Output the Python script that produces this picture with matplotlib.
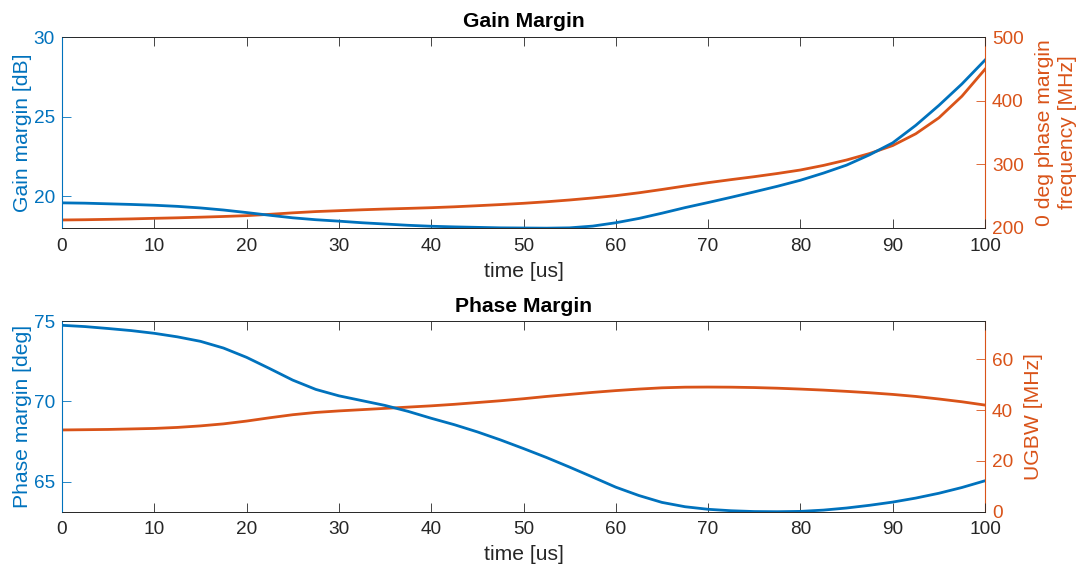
import matplotlib
matplotlib.use("Agg")
import matplotlib.pyplot as plt

plt.rcParams['font.family'] = ['Liberation Sans', 'DejaVu Sans']

# Time axis [us], sampled every 2.5 us
time_us = [i * 2.5 for i in range(41)]

# Gain margin [dB]
gain_margin = [19.58, 19.56, 19.52, 19.48, 19.43, 19.36, 19.26, 19.13, 18.97, 18.80,
               18.64, 18.52, 18.43, 18.33, 18.25, 18.17, 18.11, 18.07, 18.04, 18.01,
               18.00, 17.99, 18.01, 18.12, 18.33, 18.60, 18.93, 19.28, 19.60, 19.93,
               20.27, 20.62, 21.00, 21.45, 21.95, 22.60, 23.35, 24.45, 25.70, 27.05,
               28.55]

# 0 deg phase margin frequency [MHz]
zero_pm_freq = [212.6, 213.0, 213.6, 214.3, 215.2, 216.0, 217.0, 218.1, 219.4, 221.5,
                223.8, 225.8, 227.2, 228.6, 229.8, 230.8, 231.9, 233.3, 235.0, 236.8,
                238.8, 241.2, 244.0, 247.2, 250.8, 255.3, 260.5, 266.0, 271.2, 276.0,
                280.6, 285.6, 291.1, 298.3, 306.8, 317.0, 329.5, 348.0, 373.0, 407.0,
                449.3]

# Phase margin [deg]
phase_margin = [74.75, 74.67, 74.55, 74.42, 74.25, 74.03, 73.75, 73.33, 72.75, 72.05,
                71.33, 70.75, 70.35, 70.05, 69.75, 69.38, 68.95, 68.55, 68.10, 67.60,
                67.06, 66.50, 65.90, 65.28, 64.65, 64.13, 63.70, 63.43, 63.27, 63.18,
                63.13, 63.12, 63.14, 63.22, 63.35, 63.52, 63.72, 63.97, 64.27, 64.63,
                65.05]

# Unity gain bandwidth [MHz]
ugbw = [32.2, 32.3, 32.4, 32.6, 32.8, 33.2, 33.8, 34.6, 35.7, 37.0,
        38.2, 39.1, 39.7, 40.2, 40.7, 41.2, 41.7, 42.3, 43.0, 43.7,
        44.5, 45.4, 46.2, 47.0, 47.7, 48.3, 48.8, 49.05, 49.1, 49.05,
        48.9, 48.65, 48.3, 47.9, 47.4, 46.85, 46.2, 45.4, 44.4, 43.3,
        42.0]

x_ticks = [0, 10, 20, 30, 40, 50, 60, 70, 80, 90, 100]

BLUE = '#0072BD'
ORANGE = '#D95319'
AXC = '#262626'
TICK_FS = 13.7
LABEL_FS = 15.2

W, H = 1089, 573
fig = plt.figure(figsize=(W / 100, H / 100), dpi=100)


def make_panel(bottom_px, top_px, yl, yr, left_lim, right_lim, left_ticks, right_ticks,
               left_label, right_label, title):
    x0, x1 = 62, 985
    ax = fig.add_axes([x0 / W, 1 - bottom_px / H, (x1 - x0) / W, (bottom_px - top_px) / H])
    ax.plot(time_us, yl, color=BLUE, lw=2.0)
    ax.set_xlim(0, 100)
    ax.set_ylim(*left_lim)
    ax.set_xticks(x_ticks)
    ax.set_yticks(left_ticks)
    ax.set_xlabel('time [us]', fontsize=LABEL_FS, color=AXC, labelpad=5)
    ax.set_ylabel(left_label, fontsize=LABEL_FS, color=BLUE, labelpad=1)
    ax.set_title(title, fontsize=15.2, fontweight='bold', color='black', pad=7)

    axr = ax.twinx()
    axr.plot(time_us, yr, color=ORANGE, lw=2.0)
    axr.set_ylim(*right_lim)
    axr.set_yticks(right_ticks)
    axr.set_ylabel(right_label, fontsize=LABEL_FS, color=ORANGE, labelpad=8,
                   linespacing=1.3)
    ax.set_zorder(axr.get_zorder() + 1)
    ax.patch.set_visible(False)

    for a in (ax, axr):
        a.spines['top'].set_color(AXC)
        a.spines['bottom'].set_color(AXC)
        a.spines['top'].set_linewidth(0.6)
        a.spines['bottom'].set_linewidth(0.6)
    ax.spines['left'].set_color(BLUE)
    ax.spines['left'].set_linewidth(0.8)
    ax.spines['right'].set_visible(False)
    axr.spines['right'].set_color(ORANGE)
    axr.spines['right'].set_linewidth(0.8)
    axr.spines['left'].set_visible(False)

    ax.tick_params(axis='x', direction='in', length=6.5, width=0.6, color=AXC,
                   labelcolor=AXC, labelsize=TICK_FS, top=True, pad=7)
    ax.tick_params(axis='y', direction='in', length=6.5, width=0.6, color=BLUE,
                   labelcolor=BLUE, labelsize=TICK_FS, pad=5)
    axr.tick_params(axis='y', direction='in', length=6.5, width=0.6, color=ORANGE,
                    labelcolor=ORANGE, labelsize=TICK_FS, pad=5)
    return ax, axr


make_panel(228, 37, gain_margin, zero_pm_freq, (18, 30), (200, 500),
           [20, 25, 30], [200, 300, 400, 500],
           'Gain margin [dB]', '0 deg phase margin\nfrequency [MHz]', 'Gain Margin')

make_panel(511.7, 321.3, phase_margin, ugbw, (63.12, 75), (0, 75),
           [65, 70, 75], [0, 20, 40, 60],
           'Phase margin [deg]', 'UGBW [MHz]', 'Phase Margin')

fig.savefig('out.png', dpi=100, facecolor='white')
